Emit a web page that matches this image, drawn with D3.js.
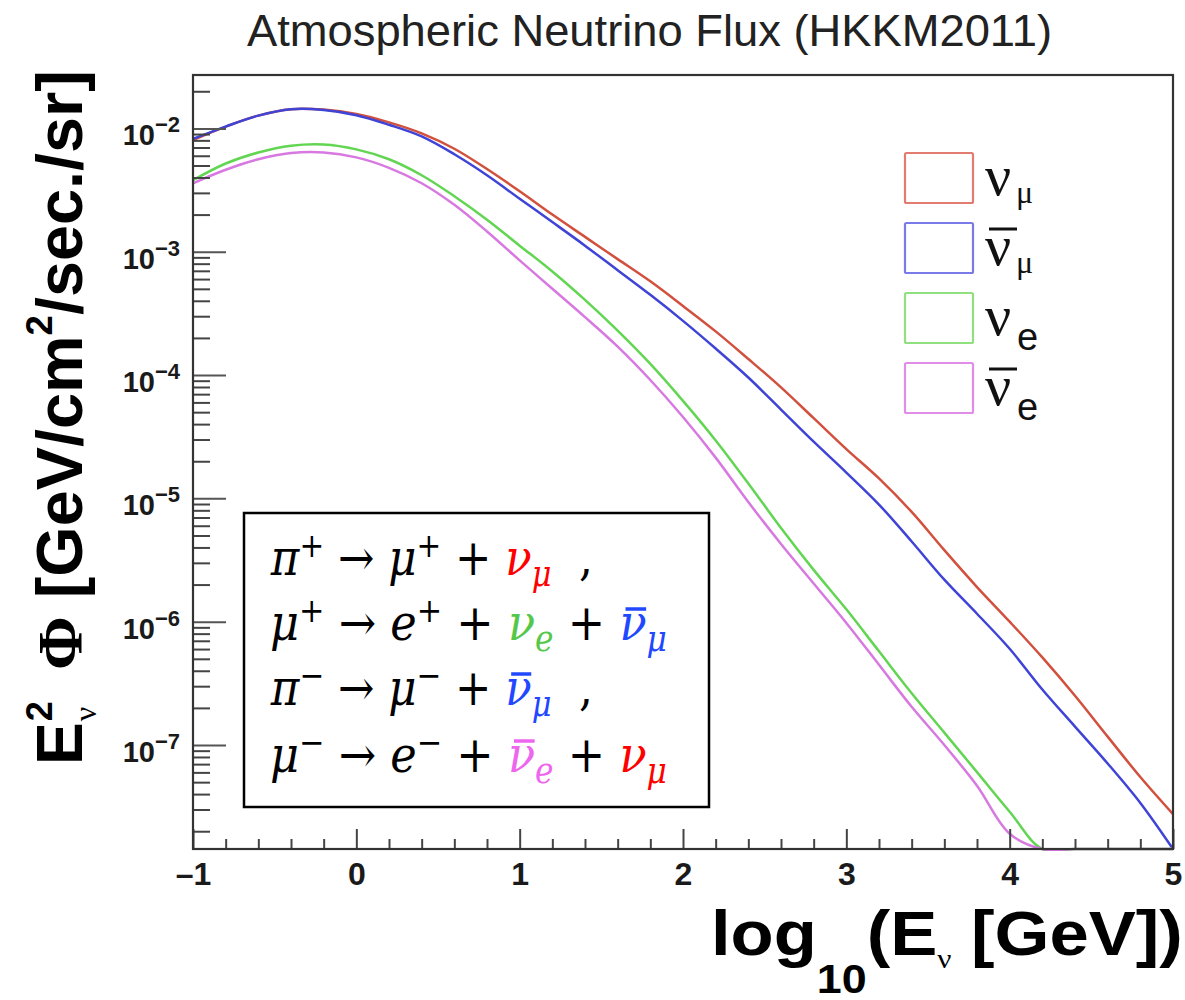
<!DOCTYPE html>
<html><head><meta charset="utf-8">
<script src="https://cdn.jsdelivr.net/npm/d3@7"></script>
<style>body{margin:0;background:#fff}</style>
</head><body>
<svg id="c" width="1185" height="1000" xmlns="http://www.w3.org/2000/svg"></svg>
<script>
// ---------------- data ----------------
const logE = [-1.0,-0.8,-0.6,-0.4,-0.2,0.0,0.2,0.4,0.6,0.8,1.0,1.2,1.4,1.6,1.8,2.0,2.2,2.4,2.6,2.8,3.0,3.2,3.4,3.6,3.8,4.0,4.2,4.4,4.6,4.8,5.0];
const fluxNuMu = [8.04e-3,1.035e-2,1.27e-2,1.43e-2,1.42e-2,1.31e-2,1.12e-2,9.12e-3,6.84e-3,4.68e-3,3.09e-3,2.00e-3,1.32e-3,8.71e-4,5.75e-4,3.63e-4,2.26e-4,1.35e-4,7.94e-5,4.47e-5,2.51e-5,1.45e-5,7.76e-6,3.80e-6,1.91e-6,1.00e-6,5.13e-7,2.51e-7,1.17e-7,5.50e-8,2.75e-8];
const fluxNuMuBar = [8.22e-3,1.035e-2,1.27e-2,1.43e-2,1.41e-2,1.28e-2,1.07e-2,8.61e-3,6.17e-3,4.17e-3,2.69e-3,1.74e-3,1.12e-3,7.08e-4,4.47e-4,2.75e-4,1.64e-4,9.55e-5,5.25e-5,2.88e-5,1.62e-5,8.91e-6,4.47e-6,2.19e-6,1.16e-6,6.03e-7,2.82e-7,1.41e-7,7.08e-8,3.39e-8,1.43e-8];
const fluxNuE = [3.80e-3,5.19e-3,6.38e-3,7.24e-3,7.41e-3,6.76e-3,5.62e-3,4.17e-3,2.82e-3,1.82e-3,1.12e-3,6.92e-4,4.07e-4,2.29e-4,1.23e-4,6.17e-5,2.95e-5,1.32e-5,5.75e-6,2.63e-6,1.26e-6,5.75e-7,2.63e-7,1.26e-7,6.03e-8,2.88e-8,1.35e-8,6.3e-9,3.2e-9,1.6e-9,7.9e-10];
const fluxNuEBar = [3.59e-3,4.62e-3,5.62e-3,6.31e-3,6.38e-3,5.82e-3,4.79e-3,3.59e-3,2.40e-3,1.46e-3,8.51e-4,5.01e-4,2.95e-4,1.70e-4,9.12e-5,4.57e-5,2.14e-5,9.33e-6,4.27e-6,2.04e-6,9.77e-7,4.47e-7,2.04e-7,1.00e-7,4.68e-8,1.91e-8,8.9e-9,4.0e-9,2.0e-9,1.0e-9,5.0e-10];

const xTickValues = [-1,0,1,2,3,4,5];
const xTickLabels = ["\u20131","0","1","2","3","4","5"];
const yDecades = [1e-7,1e-6,1e-5,1e-4,1e-3,1e-2];
const yDecadeExps = ["\u22127","\u22126","\u22125","\u22124","\u22123","\u22122"];
const yDomain = [1.435e-8, 2.71e-2];
const xDomain = [-1, 5];

const titleText = "Atmospheric Neutrino Flux (HKKM2011)";
const legendBase = ["\u03bd","\u03bd","\u03bd","\u03bd"];
const legendSub = ["\u03bc","\u03bc","e","e"];
const legendBar = [false,true,false,true];

// ---------------- styles ----------------
const SANS = "'Liberation Sans', Arial, Helvetica, sans-serif";
const SERIF = "'Liberation Serif', 'Times New Roman', serif";
const MATH = "'DejaVu Serif', serif";
const curveColors = ["#d2503e","#3f44d6","#62d552","#d779e0"];
const boxColors = ["#e27c70","#7a7ae8","#90e080","#e08de8"];

const svg = d3.select("#c");
const plot = {left:193, right:1173, top:75, bottom:849};
const x = d3.scaleLinear().domain(xDomain).range([plot.left, plot.right]);
const y = d3.scaleLog().domain(yDomain).range([plot.bottom, plot.top]).clamp(true);

function fitX(g, x0, x1, baseY) {
  const bb = g.node().getBBox();
  const s = (x1 - x0) / bb.width;
  g.attr("transform", `translate(${x0 - bb.x * s},${baseY}) scale(${s},1)`);
}

// ---------------- title ----------------
svg.append("text").attr("x",247).attr("y",46)
  .attr("font-family",SANS).attr("font-size",44).attr("fill","#222")
  .attr("textLength",805).attr("lengthAdjust","spacingAndGlyphs")
  .text(titleText);

// ---------------- curves ----------------
svg.append("defs").append("clipPath").attr("id","clip")
  .append("rect").attr("x",plot.left).attr("y",plot.top)
  .attr("width",plot.right-plot.left).attr("height",plot.bottom-plot.top+2);

const series = [fluxNuMu, fluxNuMuBar, fluxNuE, fluxNuEBar];
const line = d3.line().x((d,i)=>x(logE[i])).y(d=>y(d)).curve(d3.curveCatmullRom.alpha(0.5));
const gc = svg.append("g").attr("clip-path","url(#clip)");
series.forEach((s,k)=>{
  gc.append("path").datum(s).attr("d",line).attr("fill","none")
    .attr("stroke",curveColors[k]).attr("stroke-width",2.5).attr("stroke-linejoin","round");
});

// ---------------- axes ----------------
const gx = svg.append("g").attr("transform",`translate(0,${plot.bottom})`)
  .call(d3.axisBottom(x).tickValues(xTickValues).tickSize(-20).tickPadding(13)
    .tickFormat((d,i)=>xTickLabels[i]));
gx.select(".domain").remove();
gx.selectAll("line").attr("stroke","#444").attr("stroke-width",2);
gx.selectAll("text").attr("font-family",SANS).attr("font-weight","bold")
  .attr("font-size",32).attr("fill","#1a1a1a");

const xMinor = d3.range(0,31).map(i=>-1+i*0.2).filter(v=>Math.abs(v-Math.round(v))>1e-6);
const gxm = svg.append("g").attr("transform",`translate(0,${plot.bottom})`)
  .call(d3.axisBottom(x).tickValues(xMinor).tickSize(-10).tickFormat(""));
gxm.select(".domain").remove();
gxm.selectAll("line").attr("stroke","#444").attr("stroke-width",2);

const gy = svg.append("g").attr("transform",`translate(${plot.left},0)`)
  .call(d3.axisLeft(y).tickValues(yDecades).tickSize(-33).tickFormat(""));
gy.select(".domain").remove();
gy.selectAll("line").attr("stroke","#555").attr("stroke-width",2);

const yMinor = [];
for (let k=-8;k<=-2;k++) for (let m=2;m<=9;m++){ const v=m*Math.pow(10,k); if(v>=yDomain[0]&&v<=yDomain[1]) yMinor.push(v); }
const gym = svg.append("g").attr("transform",`translate(${plot.left},0)`)
  .call(d3.axisLeft(y).tickValues(yMinor).tickSize(-17).tickFormat(""));
gym.select(".domain").remove();
gym.selectAll("line").attr("stroke","#444").attr("stroke-width",2);

yDecades.forEach((v,i)=>{
  const t = svg.append("text").attr("x",180).attr("y",y(v)+17).attr("text-anchor","end")
    .attr("font-family",SANS).attr("font-weight","bold").attr("fill","#1a1a1a");
  t.append("tspan").attr("font-size",29).text("10");
  t.append("tspan").attr("font-size",22).attr("dy",-13).text(yDecadeExps[i]);
});

svg.append("rect").attr("x",plot.left).attr("y",plot.top)
  .attr("width",plot.right-plot.left).attr("height",plot.bottom-plot.top)
  .attr("fill","none").attr("stroke","#333").attr("stroke-width",2.2);

// ---------------- legend ----------------
legendBase.forEach((b,i)=>{
  const y0 = 153 + i*70;
  svg.append("rect").attr("x",905).attr("y",y0).attr("width",68).attr("height",50)
    .attr("fill","none").attr("stroke",boxColors[i]).attr("stroke-width",2.2).attr("rx",1.5);
  const base = y0 + 42;
  svg.append("text").attr("x",985).attr("y",base).attr("font-family",SERIF)
    .attr("font-size",58).attr("fill","#111").text(b);
  if (legendSub[i]==="e") {
    svg.append("text").attr("x",1017).attr("y",base+15).attr("font-family",SANS)
      .attr("font-size",38).attr("fill","#111").text("e");
  } else {
    svg.append("text").attr("x",1016).attr("y",base+8).attr("font-family",SERIF)
      .attr("font-size",32).attr("fill","#111").text("\u03bc");
  }
  if (legendBar[i]) {
    svg.append("line").attr("x1",989).attr("x2",1017).attr("y1",base-36).attr("y2",base-36)
      .attr("stroke","#111").attr("stroke-width",3);
  }
});

// ---------------- decay equations box ----------------
svg.append("rect").attr("x",244).attr("y",513).attr("width",465).attr("height",294)
  .attr("fill","#fff").attr("stroke","#000").attr("stroke-width",2.5);

const cRed="#ff0000", cGreen="#55c84a", cBlue="#2248ff", cPink="#ee66ee";
const eqLines = [
  [["\u03c0","i"],["+","sup"],[" \u2192 ","r"],["\u03bc","i"],["+","sup"],[" + ","r"],["\u03bd","i",cRed],["\u03bc","sub",cRed],["  ,","r"]],
  [["\u03bc","i"],["+","sup"],[" \u2192 ","r"],["e","i"],["+","sup"],[" + ","r"],["\u03bd","i",cGreen],["e","sub",cGreen],[" + ","r"],["\u03bd","bar",cBlue],["\u03bc","sub",cBlue]],
  [["\u03c0","i"],["\u2212","sup"],[" \u2192 ","r"],["\u03bc","i"],["\u2212","sup"],[" + ","r"],["\u03bd","bar",cBlue],["\u03bc","sub",cBlue],["  ,","r"]],
  [["\u03bc","i"],["\u2212","sup"],[" \u2192 ","r"],["e","i"],["\u2212","sup"],[" + ","r"],["\u03bd","bar",cPink],["e","sub",cPink],[" + ","r"],["\u03bd","i",cRed],["\u03bc","sub",cRed]]
];
const eqBase = [575,640,705,772];
const eqRight = [593,667,593,667];
const FS = 50;
eqLines.forEach((toks,li)=>{
  const g = svg.append("g");
  const t = g.append("text").attr("x",0).attr("y",0).attr("font-family",MATH)
    .attr("font-size",FS).attr("fill","#000").attr("xml:space","preserve").style("white-space","pre");
  let cur = 0, idx = 0; const bars = [];
  toks.forEach(([s,kind,col])=>{
    let off = 0, size = FS, style = "normal";
    if (kind==="i"||kind==="bar") style="italic";
    if (kind==="sup") { off = -18; size = 34; }
    if (kind==="sub") { off = 11; size = 35; style="italic"; }
    const sp = t.append("tspan").attr("dy",off-cur).attr("font-size",size)
      .attr("font-style",style).text(s);
    if (col) sp.attr("fill",col);
    if (kind==="bar") bars.push({idx, col});
    cur = off; idx += s.length;
  });
  bars.forEach(b=>{
    const e = t.node().getExtentOfChar(b.idx);
    g.append("line").attr("x1",e.x+e.width*0.22).attr("x2",e.x+e.width*0.98)
      .attr("y1",-31).attr("y2",-31).attr("stroke",b.col).attr("stroke-width",3.5);
  });
  const bb = t.node().getBBox();
  const s = (eqRight[li]-270)/bb.width;
  g.attr("transform",`translate(${270 - bb.x*s},${eqBase[li]}) scale(${s},1)`);
});

// ---------------- axis titles ----------------
const yt = svg.append("g").attr("transform","translate(82,765) rotate(-90)");
const tE = yt.append("text").attr("font-family",SANS).attr("font-weight","bold")
  .attr("font-size",64).attr("fill","#000").text("E");
const wE = tE.node().getComputedTextLength();
yt.append("text").attr("x",wE+1).attr("y",-30).attr("font-family",SANS).attr("font-weight","bold")
  .attr("font-size",36).attr("fill","#000").text("2");
yt.append("text").attr("x",wE+1).attr("y",14).attr("font-family",SERIF)
  .attr("font-size",32).attr("fill","#000").text("\u03bd");
const rest = yt.append("g");
const rt = rest.append("text").attr("font-family",SANS).attr("font-weight","bold")
  .attr("font-size",64).attr("fill","#000");
rt.append("tspan").attr("font-family",SERIF).attr("font-weight","bold").text("\u03a6");
rt.append("tspan").text(" [GeV/cm");
rt.append("tspan").attr("font-size",36).attr("dy",-30).text("2");
rt.append("tspan").attr("dy",30).text("/sec./sr]");
{
  const bb = rt.node().getBBox();
  const s = 600/bb.width;
  rest.attr("transform",`translate(${95 - bb.x*s},0) scale(${s},1)`);
}

const xtg = svg.append("g");
const xt = xtg.append("text").attr("font-family",SANS).attr("font-weight","bold")
  .attr("font-size",63).attr("fill","#000");
xt.append("tspan").text("log");
xt.append("tspan").attr("font-size",40).attr("dy",38).text("10");
xt.append("tspan").attr("dy",-38).text("(E");
xt.append("tspan").attr("font-family",SERIF).attr("font-weight","normal").attr("font-size",28).attr("dy",13).text("\u03bd");
xt.append("tspan").attr("dy",-13).text(" [GeV])");
fitX(xtg, 711, 1183, 955);
</script>
</body></html>
